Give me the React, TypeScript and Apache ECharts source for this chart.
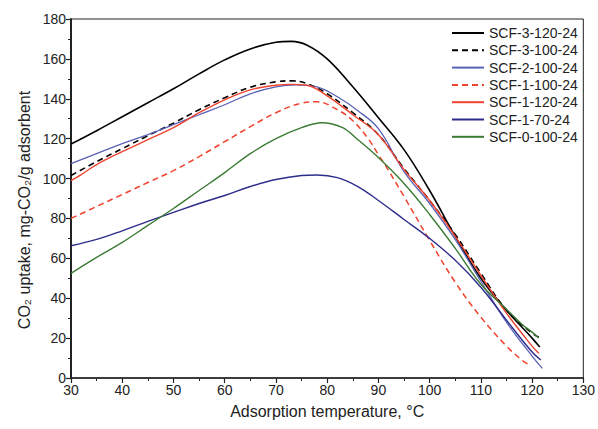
import React, { useEffect, useRef } from "react";
import * as echarts from "echarts";

const seriesNames = [
  "SCF-3-120-24",
  "SCF-3-100-24",
  "SCF-2-100-24",
  "SCF-1-100-24",
  "SCF-1-120-24",
  "SCF-1-70-24",
  "SCF-0-100-24",
];

const scf3_120: [number, number][] = [
  [30, 117.3], [35, 124], [40, 131], [45, 138], [50, 145], [55, 152.5], [60, 159.5],
  [65, 165], [70, 168.3], [73, 168.8], [76, 167], [80, 160], [85, 146], [90, 130.5],
  [95, 114.5], [100, 94], [105, 71], [110, 50], [115, 34], [120, 20], [121.5, 15.5],
];
const scf3_100: [number, number][] = [
  [30, 101.5], [35, 108.5], [40, 115], [45, 121.5], [50, 127.8], [55, 134.5], [60, 140.5],
  [65, 145.8], [70, 148.5], [73, 149], [76, 147.7], [80, 142.5], [85, 133], [90, 122],
  [95, 105], [100, 89], [105, 72], [110, 52.5], [115, 34], [120, 22.5], [121.3, 20.5],
];
const scf2_100: [number, number][] = [
  [30, 107.5], [35, 112.5], [40, 117.5], [45, 122], [50, 127], [55, 132], [60, 137],
  [65, 142.5], [70, 146], [74, 147], [78, 146], [82, 141], [86, 134], [90, 125],
  [95, 103.5], [100, 87.5], [105, 69.5], [110, 48.5], [115, 28], [120, 11], [122, 4.8],
];
const scf1_100: [number, number][] = [
  [30, 80], [35, 86], [40, 92], [45, 98], [50, 104], [55, 111], [60, 118.5], [65, 126],
  [70, 133], [75, 137.8], [78, 138.5], [82, 134.5], [85, 129], [88, 120], [90, 112],
  [92, 104], [95, 91], [100, 69], [105, 48], [110, 30.5], [115, 16], [118, 9], [119.5, 6.5],
];
const scf1_120: [number, number][] = [
  [30, 99], [32, 102], [35, 107], [40, 113.5], [45, 119.5], [50, 125.5], [55, 133],
  [60, 139.5], [65, 144.5], [70, 146.8], [73, 147.2], [76, 146.8], [80, 141.5], [85, 132],
  [90, 122], [95, 104.5], [100, 89], [105, 71], [110, 51.5], [115, 32.5], [120, 16], [121.3, 12.4],
];
const scf1_70: [number, number][] = [
  [30, 66.3], [35, 69.5], [40, 73.8], [45, 78.5], [50, 83], [55, 87.5], [60, 91.5],
  [65, 96], [70, 99.5], [75, 101.5], [78, 101.8], [82, 100.5], [86, 96], [90, 89],
  [95, 79.5], [100, 70], [105, 59], [110, 45.5], [115, 29], [120, 13], [121.7, 9],
];
const scf0_100: [number, number][] = [
  [30, 52.5], [35, 60.5], [40, 68], [45, 76.5], [50, 85], [55, 94], [60, 103], [65, 112.5],
  [70, 120], [75, 125.5], [79, 128], [83, 125.5], [86, 119.5], [90, 110.5], [95, 97.5],
  [100, 82], [105, 65], [110, 47], [115, 34.5], [118, 27], [120, 23], [121.3, 20],
];

const seriesData = [scf3_120, scf3_100, scf2_100, scf1_100, scf1_120, scf1_70, scf0_100];
const seriesColors = ["#000000", "#000000", "#5a62b6", "#f0432f", "#f0432f", "#2d2c8c", "#3b7b34"];
const seriesDashed = [false, true, false, true, false, false, false];
const seriesWidths = [1.6, 1.6, 1.3, 1.5, 1.4, 1.4, 1.4];

const FONT = "'Liberation Sans', Arial, Helvetica, sans-serif";

export default function App() {
  const ref = useRef<HTMLDivElement>(null);
  useEffect(() => {
    if (!ref.current) return;
    const chart = echarts.init(ref.current, undefined, { renderer: "svg" });
    chart.setOption({
      animation: false,
      backgroundColor: "#ffffff",
      textStyle: { fontFamily: FONT },
      grid: {
        left: 71,
        right: 14,
        top: 19,
        bottom: 51,
        show: true,
        borderColor: "#222",
        borderWidth: 1,
        backgroundColor: "transparent",
      },
      legend: {
        orient: "vertical",
        left: 446,
        top: 21,
        itemWidth: 32,
        itemHeight: 14,
        itemGap: 3.3,
        data: seriesNames,
        itemStyle: { opacity: 0 },
        textStyle: { fontSize: 14, color: "#222", fontFamily: FONT, lineHeight: 14 },
      },
      xAxis: {
        type: "value",
        min: 30,
        max: 130,
        interval: 10,
        name: "Adsorption temperature, °C",
        nameLocation: "middle",
        nameGap: 25,
        nameTextStyle: { fontSize: 16, color: "#222", fontFamily: FONT },
        axisLine: { show: true, onZero: false, lineStyle: { color: "#222", width: 1.5 } },
        axisTick: { show: true, inside: false, length: 5, lineStyle: { color: "#222", width: 1.2 } },
        minorTick: { show: true, splitNumber: 2, length: 3, lineStyle: { color: "#222", width: 1 } },
        axisLabel: { fontSize: 14, color: "#222", margin: 5, fontFamily: FONT },
        splitLine: { show: false },
      },
      yAxis: {
        type: "value",
        min: 0,
        max: 180,
        interval: 20,
        axisLine: { show: true, onZero: false, lineStyle: { color: "#222", width: 2 } },
        axisTick: { show: true, inside: false, length: 5, lineStyle: { color: "#222", width: 1.2 } },
        minorTick: { show: true, splitNumber: 2, length: 3, lineStyle: { color: "#222", width: 1 } },
        axisLabel: { fontSize: 14, color: "#222", margin: 5, fontFamily: FONT },
        splitLine: { show: false },
      },
      graphic: [
        {
          type: "text",
          x: 24,
          y: 210,
          rotation: Math.PI / 2,
          style: {
            text: "CO₂ uptake, mg-CO₂/g adsorbent",
            fontSize: 16,
            fontFamily: FONT,
            fill: "#222",
            align: "center",
            verticalAlign: "middle",
            textAlign: "center",
            textVerticalAlign: "middle",
          },
        },
      ],
      series: seriesNames.map((name, i) => ({
        name,
        type: "line",
        data: seriesData[i],
        smooth: 0.4,
        symbol: "none",
        showSymbol: false,
        color: seriesColors[i],
        lineStyle: {
          color: seriesColors[i],
          width: seriesWidths[i],
          type: seriesDashed[i] ? [6, 4] : "solid",
        },
      })),
    });
    return () => chart.dispose();
  }, []);
  return <div ref={ref} style={{ width: 598, height: 429, position: "absolute", left: 0, top: 0 }} />;
}
